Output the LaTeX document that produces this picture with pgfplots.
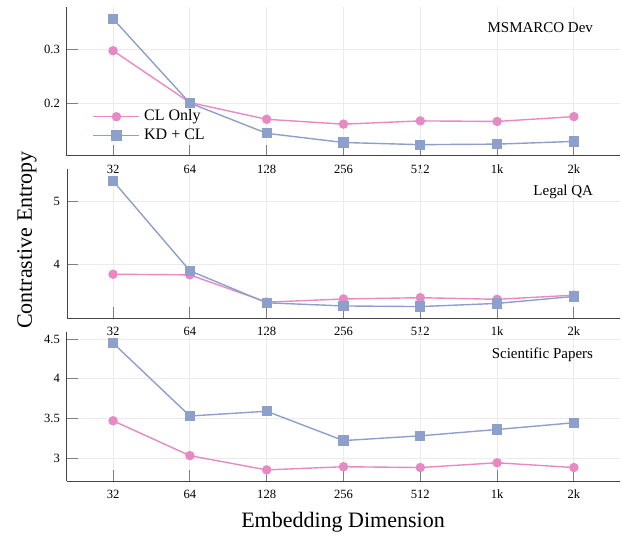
\documentclass[border=0pt]{standalone}
\usepackage{pgfplots}
\pgfplotsset{compat=1.18}
\usepackage{fontspec}
\setmainfont{Liberation Serif}

\definecolor{clpink}{HTML}{E78AC3}
\definecolor{kdblue}{HTML}{8DA0CB}
\definecolor{gridgray}{HTML}{EBEBEB}
\definecolor{axisgray}{HTML}{444444}

\pgfplotsset{
  panel/.style={
    scale only axis, width=276.5pt, height=74.5pt,
    anchor=south west,
    xmin=-0.6, xmax=6.6,
    xtick={0,...,6}, xticklabels={32,64,128,256,512,1k,2k},
    axis lines*=left,
    axis line style={axisgray, line width=0.5pt},
    tick style={gray, line width=0.5pt},
    major tick length=5.5pt,
    tick align=inside,
    grid=major, grid style={gridgray, line width=0.5pt},
    ticklabel style={font=\fontsize{6.3}{7}\selectfont},
    /pgf/number format/assume math mode=true,
    xticklabel style={yshift=-1pt},
    clip=false,
  },
  clline/.style={clpink, line width=0.7pt, mark=*, mark size=2pt, mark options={solid, fill=clpink, draw=clpink}},
  kdline/.style={kdblue, line width=0.7pt, mark=square*, mark size=2.2pt, mark options={solid, fill=kdblue, draw=kdblue}},
}

\begin{document}
\begin{tikzpicture}
\useasboundingbox (0,0) rectangle (311pt,268.5pt);

% MSMARCO Dev
\begin{axis}[panel, at={(33.5pt,190.5pt)},
  ymin=0.102, ymax=0.378, ytick={0.2,0.3},
  yticklabels={0.2,0.3},
  legend style={at={(0.035,0.035)}, anchor=south west, draw=none,
    fill=none, font=\fontsize{8}{9.5}\selectfont, row sep=-1.5pt},
  legend cell align=left,
  legend image code/.code={\draw[mark repeat=2,mark phase=2] plot coordinates {(0pt,0pt) (11.5pt,0pt) (23pt,0pt)};}]
\addplot[clline] coordinates {(0,0.297) (1,0.201) (2,0.170) (3,0.161) (4,0.167) (5,0.166) (6,0.175)};
\addplot[kdline] coordinates {(0,0.356) (1,0.200) (2,0.144) (3,0.127) (4,0.123) (5,0.124) (6,0.129)};
\legend{CL Only, KD + CL}
\node[anchor=east, font=\fontsize{7.5}{9}\selectfont] at (rel axis cs:0.964,0.86) {MSMARCO Dev};
\end{axis}

% Legal QA
\begin{axis}[panel, at={(33.5pt,109.5pt)},
  ymin=3.16, ymax=5.51, ytick={4,5}]
\addplot[clline] coordinates {(0,3.85) (1,3.84) (2,3.41) (3,3.46) (4,3.48) (5,3.455) (6,3.52)};
\addplot[kdline] coordinates {(0,5.32) (1,3.905) (2,3.40) (3,3.35) (4,3.34) (5,3.39) (6,3.50)};
\node[anchor=east, font=\fontsize{7.5}{9}\selectfont] at (rel axis cs:0.964,0.846) {Legal QA};
\end{axis}

% Scientific Papers
\begin{axis}[panel, at={(33.5pt,28pt)},
  ymin=2.71, ymax=4.59, ytick={3,3.5,4,4.5}]
\addplot[clline] coordinates {(0,3.47) (1,3.03) (2,2.85) (3,2.89) (4,2.88) (5,2.94) (6,2.88)};
\addplot[kdline] coordinates {(0,4.45) (1,3.53) (2,3.59) (3,3.22) (4,3.28) (5,3.36) (6,3.445)};
\node[anchor=east, font=\fontsize{7.5}{9}\selectfont] at (rel axis cs:0.964,0.85) {Scientific Papers};
\end{axis}

\node[font=\fontsize{11}{13}\selectfont] at (171.5pt,7.5pt) {Embedding Dimension};
\node[font=\fontsize{11}{13}\selectfont, rotate=90] at (13.5pt,148.5pt) {Contrastive Entropy};
\end{tikzpicture}
\end{document}
